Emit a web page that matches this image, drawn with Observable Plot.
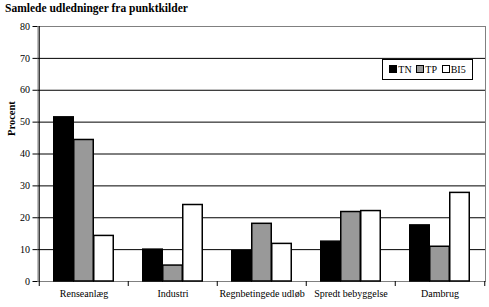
<!DOCTYPE html>
<html>
<head>
<meta charset="utf-8">
<script src="https://cdn.jsdelivr.net/npm/d3@7"></script>
<script src="https://cdn.jsdelivr.net/npm/@observablehq/plot@0.6"></script>
<style>
  html, body { margin: 0; padding: 0; background: white; }
  #wrap { position: relative; width: 489px; height: 307px; font-family: "Liberation Serif", serif; }
  #title { position: absolute; left: 5px; top: 2px; font-size: 11.5px; font-weight: bold; white-space: nowrap; }
  #chart { position: absolute; left: 0; top: 20px; }
  #legend { position: absolute; left: 382px; top: 59px; width: 91px; height: 21px; border: 1px solid black; background: white;
    display: flex; align-items: center; justify-content: space-around; font-size: 10px; padding: 0 4px; box-sizing: border-box; }
  #legend span.sw { display: inline-block; width: 6px; height: 6px; border: 1px solid black; margin-right: 1px; vertical-align: 0px; }
</style>
</head>
<body>
<div id="wrap">
  <div id="title">Samlede udledninger fra punktkilder</div>
  <div id="chart"></div>
  <div id="legend"></div>
</div>
<script>
const categories = ["Renseanlæg", "Industri", "Regnbetingede udløb", "Spredt bebyggelse", "Dambrug"];
const series = ["TN", "TP", "BI5"];
const colors = ["black", "#999999", "white"];
const TN = [51.5, 10.0, 9.5, 12.5, 17.6];
const TP = [44.4, 5.0, 18.1, 21.8, 10.9];
const BI5 = [14.3, 24.0, 11.8, 22.1, 27.8];
const yTicks = [0, 10, 20, 30, 40, 50, 60, 70, 80];

const values = {TN, TP, BI5};
const data = series.flatMap(s => categories.map((c, i) => ({cat: c, series: s, value: values[s][i]})));

const W = 489, H = 287, mL = 37.5, mR = 4;
const step = (W - mL - mR) / categories.length;
const barW = 20;

const barMarks = series.map((s, k) => Plot.barY(data.filter(d => d.series === s), {
  x: "cat", y: "value", fill: colors[k], stroke: "black", strokeWidth: 1.5,
  insetLeft: (step - barW) / 2, insetRight: (step - barW) / 2, dx: (k - 1) * barW
}));

const chart = Plot.plot({
  width: W, height: H,
  marginTop: 6, marginBottom: 26, marginLeft: mL, marginRight: mR,
  style: {fontFamily: "Liberation Serif", fontSize: "10px", background: "white", color: "black", overflow: "visible"},
  x: {domain: categories, padding: 0, axis: null},
  y: {domain: [0, 80], axis: null},
  marks: [
    Plot.frame({stroke: "#808080"}),
    Plot.gridY(yTicks.filter(t => t > 0 && t < 80), {stroke: "black", strokeOpacity: 1}),
    ...barMarks,
    Plot.ruleX([categories[0]], {dx: -step / 2, stroke: "black"}),
    Plot.axisY(yTicks, {tickSize: 5, tickPadding: 3, label: null, stroke: "black", strokeOpacity: 1, fontSize: 10}),
    Plot.axisX({tickSize: 5, tickFormat: () => "", dx: -step / 2, label: null, stroke: "black", strokeOpacity: 1}),
    Plot.axisX([categories[categories.length - 1]], {tickSize: 5, tickFormat: () => "", dx: step / 2, label: null, stroke: "black", strokeOpacity: 1}),
    Plot.axisX({tickSize: 0, tickPadding: 8, label: null, fontSize: 10}),
    Plot.text(["Procent"], {frameAnchor: "left", rotate: -90, dx: -26, dy: -18, fontWeight: "bold", fontSize: 10.5})
  ]
});
document.getElementById("chart").appendChild(chart);

const legend = document.getElementById("legend");
series.forEach((s, k) => {
  const item = document.createElement("div");
  item.innerHTML = `<span class="sw" style="background:${colors[k]}"></span>${s}`;
  legend.appendChild(item);
});
</script>
</body>
</html>
